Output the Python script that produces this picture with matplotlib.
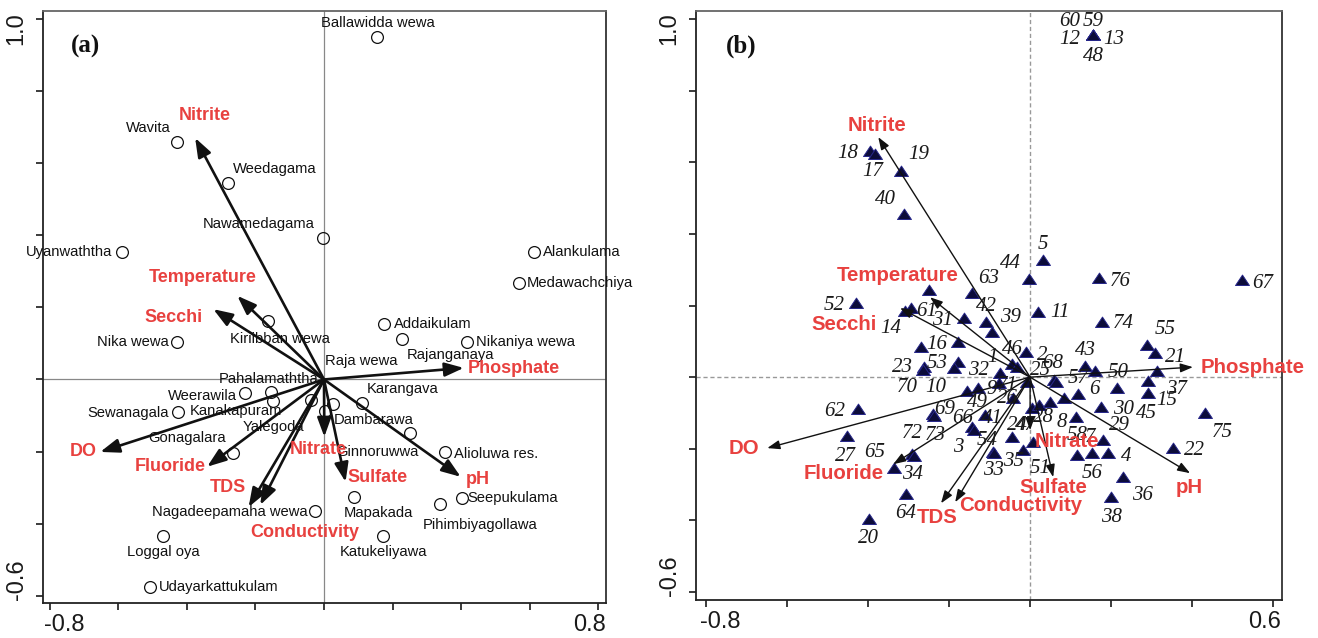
import numpy as np
import matplotlib
matplotlib.use("Agg")
import matplotlib.pyplot as plt
from matplotlib.patches import FancyArrowPatch
import matplotlib.transforms as mtrans

# ---------------- data ----------------
env_vars = ["Nitrite", "Temperature", "Secchi", "DO", "Fluoride", "TDS",
            "Conductivity", "Nitrate", "Sulfate", "pH", "Phosphate"]
env_a_x = [-0.376, -0.253, -0.323, -0.653, -0.341, -0.220, -0.186, 0.001, 0.063, 0.399, 0.408]
env_a_y = [0.670, 0.232, 0.195, -0.201, -0.242, -0.354, -0.348, -0.159, -0.284, -0.270, 0.032]
env_b_x = [-0.375, -0.247, -0.321, -0.649, -0.338, -0.220, -0.185, 0.000, 0.057, 0.395, 0.402]
env_b_y = [0.670, 0.223, 0.193, -0.198, -0.243, -0.352, -0.349, -0.148, -0.279, -0.268, 0.028]

site_names = ["Ballawidda wewa", "Wavita", "Weedagama", "Nawamedagama", "Uyanwaththa",
              "Alankulama", "Medawachchiya", "Kiriibban wewa", "Nika wewa", "Addaikulam",
              "Rajanganaya", "Nikaniya wewa", "Pahalamaththa", "Weerawila", "Kanakapuram",
              "Yalegoda", "Raja wewa", "Dambarawa", "Karangava", "Sewanagala",
              "Gonagalara", "Ginnoruwwa", "Alioluwa res.", "Seepukulama", "Pihimbiyagollawa",
              "Mapakada", "Nagadeepamaha wewa", "Katukeliyawa", "Loggal oya", "Udayarkattukulam"]
site_x = [0.154, -0.428, -0.279, -0.004, -0.589, 0.613, 0.569, -0.162, -0.428, 0.174,
          0.227, 0.417, -0.154, -0.230, -0.148, -0.039, 0.004, 0.025, 0.110, -0.425,
          -0.265, 0.250, 0.352, 0.402, 0.338, 0.089, -0.025, 0.171, -0.469, -0.507]
site_y = [0.950, 0.659, 0.545, 0.392, 0.354, 0.354, 0.267, 0.162, 0.104, 0.154,
          0.112, 0.104, -0.035, -0.037, -0.060, -0.057, -0.087, -0.068, -0.066, -0.090,
          -0.204, -0.148, -0.201, -0.329, -0.345, -0.326, -0.364, -0.433, -0.433, -0.575]

sample_ids = ["60", "59", "12", "13", "48", "18", "17", "19", "40", "52",
              "63", "44", "5", "76", "67", "61", "14", "31", "42", "39",
              "11", "74", "55", "21", "16", "23", "70", "53", "10", "32",
              "1", "46", "2", "68", "57", "43", "50", "30", "29", "37",
              "15", "45", "75", "22", "36", "38", "56", "4", "58", "7",
              "6", "8", "9", "49", "26", "71", "25", "24", "51", "35",
              "47", "28", "41", "66", "3", "54", "33", "62", "27", "65",
              "72", "34", "64", "20", "69", "73", "", "", "", ""]
sample_x = [0.156, 0.156, 0.156, 0.156, 0.156, -0.395, -0.383, -0.319, -0.311, -0.430,
            -0.143, -0.002, 0.032, 0.170, 0.523, -0.294, -0.309, -0.163, -0.109, -0.094,
            0.020, 0.178, 0.289, 0.309, -0.269, -0.262, -0.264, -0.178, -0.188, -0.074,
            -0.044, -0.032, -0.010, 0.059, 0.064, 0.136, 0.160, 0.215, 0.175, 0.314,
            0.291, 0.291, 0.432, 0.353, 0.230, 0.200, 0.153, 0.193, 0.116, 0.180,
            0.119, 0.114, -0.128, -0.156, -0.042, -0.077, -0.007, -0.044, 0.007, -0.017,
            0.005, 0.022, -0.111, -0.143, -0.138, -0.091, -0.089, -0.425, -0.452, -0.336,
            -0.291, -0.286, -0.306, -0.398, -0.240, -0.237, -0.249, -0.178, 0.049, 0.084]
sample_y = [0.955, 0.955, 0.955, 0.955, 0.955, 0.631, 0.623, 0.575, 0.455, 0.207,
            0.235, 0.274, 0.327, 0.277, 0.271, 0.193, 0.184, 0.165, 0.154, 0.126,
            0.182, 0.154, 0.089, 0.067, 0.084, 0.028, 0.020, 0.042, 0.025, 0.011,
            0.036, 0.028, 0.070, -0.008, -0.014, 0.031, 0.017, -0.031, -0.084, 0.017,
            -0.011, -0.045, -0.101, -0.198, -0.279, -0.335, -0.212, -0.212, -0.218, -0.176,
            -0.047, -0.112, -0.031, -0.039, -0.059, -0.017, -0.014, -0.168, -0.182, -0.204,
            -0.087, -0.078, -0.106, -0.140, -0.148, -0.209, -0.212, -0.089, -0.165, -0.254,
            -0.215, -0.221, -0.327, -0.397, -0.103, -0.109, 0.243, 0.098, -0.070, -0.059]

# ---------------- layout (label offsets in pixels: dx right, dy down) ----------------
env_a_off = [(10, -22), (-35, -18), (-40, 8), (-17, 0), (-37, 0), (-21, -20),
             (44, 28), (-6, 13), (32, -4), (17, 3), (50, 1)]
env_b_off = [(-1, -12), (-32, -22), (-56, 16), (-23, 0), (-50, 9), (-4, 14),
             (66, 3), (37, 11), (0, 10), (-1, 14), (60, 0)]
site_off = [(1, -14, 'center'), (-29, -14, 'center'), (5, -14, 'left'), (-64, -14, 'center'),
            (-10, 0, 'right'), (9, 0, 'left'), (8, 0, 'left'), (11, 18, 'center'),
            (-9, 0, 'right'), (10, 0, 'left'), (49, 16, 'center'), (9, 0, 'left'),
            (-3, -13, 'center'), (-8, 3, 'right'), (-37, 10, 'center'), (-37, 27, 'center'),
            (36, -50, 'center'), (41, 16, 'center'), (41, -14, 'center'), (-10, 1, 'right'),
            (-46, -15, 'center'), (-32, 19, 'center'), (9, 2, 'left'), (6, 0, 'left'),
            (40, 21, 'center'), (24, 16, 'center'), (-8, 1, 'right'), (1, 16, 'center'),
            (0, 16, 'center'), (9, 0, 'left')]
sample_off = [(-24, -14), (0, -14), (-24, 4), (20, 4), (0, 21), (-22, 2), (-2, 18), (18, -17),
              (-19, -15), (-22, 3), (16, -14), (-19, -15), (0, -15), (21, 4), (21, 3), (16, 3),
              (-14, 17), (-22, 2), (0, -15), (18, -15), (22, 1), (21, 2), (18, -16), (20, 4),
              (16, -3), (-22, 0), (-16, 18), (-21, 1), (-18, 19), (-22, -3), (-20, -7), (-5, -18),
              (16, 3), (-1, -17), (22, -4), (0, -16), (23, 1), (6, 21), (19, 18), (19, 18),
              (19, 19), (-1, 20), (17, 19), (21, 2), (19, 18), (0, 20), (0, 20), (18, 3),
              (0, -20), (-13, -3), (16, -4), (-14, 5), (13, 1), (11, 11), (-6, 0), (8, 2),
              (13, -12), (5, -12), (7, 26), (-10, 11), (-7, 17), (4, 12), (7, 3), (-10, -9),
              (-16, 17), (-6, -12), (-1, 17), (-23, 2), (-2, 20), (-19, -16), (0, -21), (-2, 18),
              (-1, 19), (0, 19), (12, -5), (1, 19), (0, 0), (0, 0), (0, 0), (0, 0)]

RED = "#e8413f"
INK = "#111111"
W, H = 1318, 638

fig = plt.figure(figsize=(W / 100, H / 100), dpi=100)
axA = fig.add_axes([43 / W, 1 - 603 / H, (606 - 43) / W, (603 - 11) / H])
axB = fig.add_axes([696 / W, 1 - 600 / H, (1282 - 696) / W, (600 - 11) / H])


def style_axes(ax, xlim, ylim, xt, yt, dashed):
    ax.set_xlim(*xlim)
    ax.set_ylim(*ylim)
    for s in ax.spines.values():
        s.set_linewidth(1.3)
        s.set_color("#222222")
    ax.spines["top"].set_color("#666666")
    ax.spines["right"].set_color("#333333")
    ax.set_xticks(xt)
    ax.set_yticks(yt)
    ax.set_xticklabels(["%.1f" % xt[0]] + [""] * (len(xt) - 2) + ["%.1f" % xt[-1]])
    ax.set_yticklabels(["%.1f" % yt[0]] + [""] * (len(yt) - 2) + ["%.1f" % yt[-1]],
                       rotation=90, va="center")
    ax.tick_params(direction="out", length=5, width=1.2, labelsize=17,
                   colors="#1a1a1a", pad=6, labelfontfamily="Liberation Sans")
    ax.tick_params(axis="x", pad=3)
    if dashed:
        ax.axhline(0, color="#999999", lw=1.0, ls=(0, (3, 2)), zorder=0)
        ax.axvline(0, color="#999999", lw=1.0, ls=(0, (3, 2)), zorder=0)
    else:
        ax.axhline(0, color="#888888", lw=0.9, zorder=0)
        ax.axvline(0, color="#888888", lw=0.9, zorder=0)
    xl = ax.get_xticklabels()
    yl = ax.get_yticklabels()
    sh = [(xl[0], 0.14, 0), (xl[-1], -0.09, 0), (yl[0], 0, 0.16), (yl[-1], 0, -0.10)]
    for lab, dx, dy in sh:
        lab.set_transform(lab.get_transform() +
                          mtrans.ScaledTranslation(dx, dy, fig.dpi_scale_trans))


def draw_env(ax, xs, ys, offs, lw, hl, hw, fs):
    for name, x, y, (dx, dy) in zip(env_vars, xs, ys, offs):
        arr = FancyArrowPatch((0, 0), (x, y),
                              arrowstyle="-|>,head_length=%g,head_width=%g" % (hl, hw),
                              mutation_scale=10, lw=lw, color=INK,
                              shrinkA=0, shrinkB=0, zorder=4)
        ax.add_patch(arr)
        ax.annotate(name, (x, y), xytext=(dx, -dy), textcoords="offset pixels",
                    ha="center", va="center", color=RED, fontweight="bold",
                    fontsize=fs, family="Liberation Sans", zorder=6)


# ---------------- panel (a) ----------------
style_axes(axA, (-0.82, 0.823), (-0.62, 1.022),
           np.round(np.arange(-0.8, 0.81, 0.2), 1), np.round(np.arange(-0.6, 1.01, 0.2), 1),
           dashed=False)
axA.plot(site_x, site_y, ls="none", marker="o", ms=8.5, mfc="none",
         mec="#111111", mew=0.9, zorder=3)
for name, x, y, (dx, dy, ha) in zip(site_names, site_x, site_y, site_off):
    axA.annotate(name, (x, y), xytext=(dx, -dy), textcoords="offset pixels",
                 ha=ha, va="center", fontsize=10.6, color="#111111",
                 family="Liberation Sans", zorder=5)
draw_env(axA, env_a_x, env_a_y, env_a_off, 1.9, 1.15, 0.42, 13)
axA.text(0.075, 0.94, "(a)", transform=axA.transAxes, ha="center", va="center",
         fontsize=18, fontweight="bold", family="Liberation Serif", color="#111111")

# ---------------- panel (b) ----------------
style_axes(axB, (-0.825, 0.622), (-0.622, 1.022),
           np.round(np.arange(-0.8, 0.61, 0.2), 1), np.round(np.arange(-0.6, 1.01, 0.2), 1),
           dashed=True)
tri = [(-1, -0.72), (1, -0.72), (0, 0.78), (-1, -0.72)]
axB.plot(sample_x, sample_y, ls="none", marker=tri, ms=10, mfc="#0c0c3a",
         mec="#26268a", mew=0.7, zorder=3)
for lbl, x, y, (dx, dy) in zip(sample_ids, sample_x, sample_y, sample_off):
    if lbl:
        axB.annotate(lbl, (x, y), xytext=(dx, -dy), textcoords="offset pixels",
                     ha="center", va="center", fontsize=15, style="italic",
                     family="Liberation Serif", color="#1a1a1a", zorder=5)
draw_env(axB, env_b_x, env_b_y, env_b_off, 1.0, 0.75, 0.27, 14.7)
axB.text(0.077, 0.94, "(b)", transform=axB.transAxes, ha="center", va="center",
         fontsize=18, fontweight="bold", family="Liberation Serif", color="#111111")

fig.savefig("out.png", dpi=100)
